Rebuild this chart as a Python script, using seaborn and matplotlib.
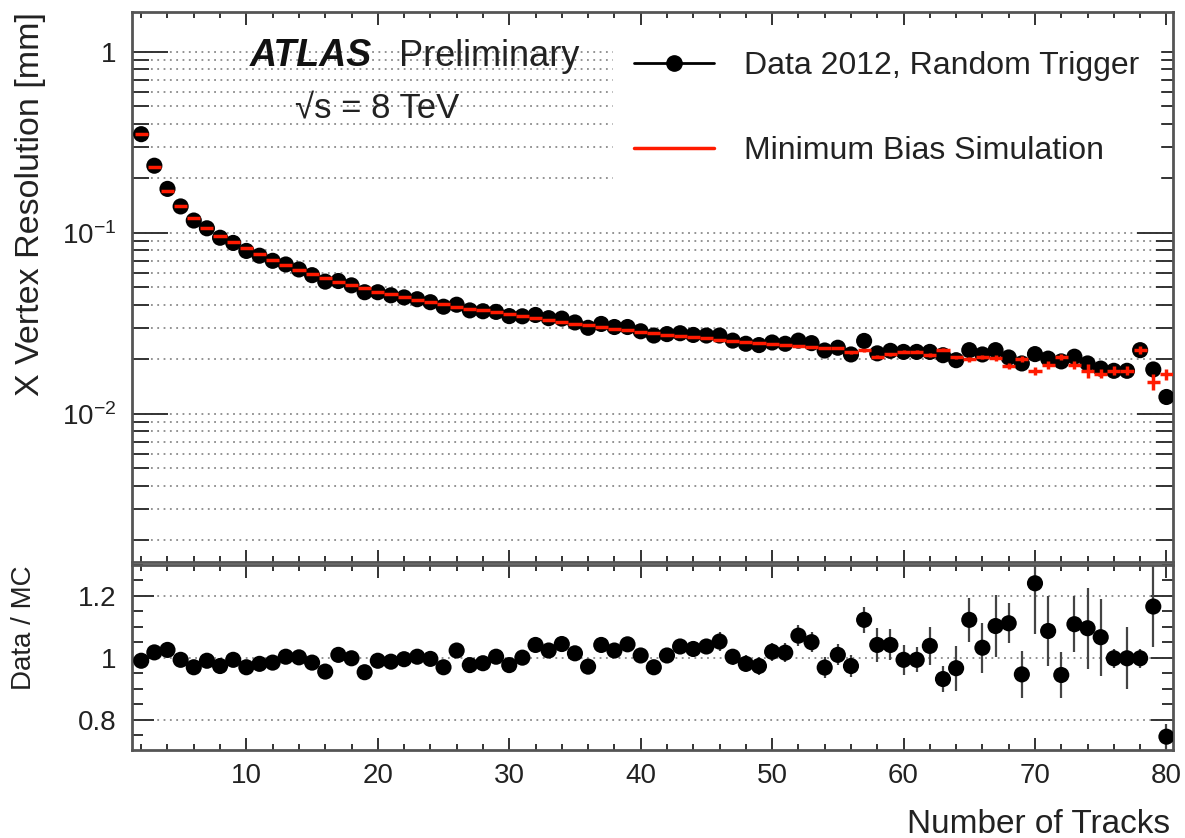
import matplotlib
matplotlib.use('Agg')
import matplotlib.pyplot as plt
import seaborn as sns
import pandas as pd
from matplotlib.lines import Line2D
from matplotlib.ticker import FixedLocator, FixedFormatter, MultipleLocator, NullFormatter, LogLocator

#------------ values ------------#
tracks = list(range(2, 81))

data_res = [
    0.351, 0.235, 0.175, 0.140, 0.117, 0.106, 0.0940, 0.0880, 0.0795, 0.0748,
    0.0701, 0.0669, 0.0628, 0.0584, 0.0538, 0.0542, 0.0513, 0.0470, 0.0470, 0.0452,
    0.0440, 0.0430, 0.0414, 0.0391, 0.0401, 0.0373, 0.0369, 0.0366, 0.0347, 0.0346,
    0.0352, 0.0338, 0.0336, 0.0320, 0.0299, 0.0314, 0.0302, 0.0302, 0.0286, 0.0271,
    0.0276, 0.0279, 0.0273, 0.0271, 0.0271, 0.0254, 0.0244, 0.0240, 0.0248, 0.0244,
    0.0254, 0.0246, 0.0224, 0.0232, 0.0213, 0.0253, 0.0216, 0.0223, 0.0220, 0.0220,
    0.0220, 0.0211, 0.0198, 0.0225, 0.0213, 0.0225, 0.0205, 0.0190, 0.0214, 0.0202,
    0.0195, 0.0207, 0.0190, 0.0178, 0.0173, 0.0173, 0.0225, 0.0176, 0.0124,
]

mc_res = [
    0.354, 0.231, 0.171, 0.141, 0.121, 0.107, 0.0965, 0.0885, 0.0820, 0.0762,
    0.0712, 0.0666, 0.0627, 0.0593, 0.0563, 0.0537, 0.0514, 0.0493, 0.0474, 0.0457,
    0.0442, 0.0428, 0.0415, 0.0403, 0.0392, 0.0382, 0.0375, 0.0365, 0.0355, 0.0346,
    0.0338, 0.0330, 0.0322, 0.0315, 0.0308, 0.0301, 0.0295, 0.0289, 0.0284, 0.0279,
    0.0274, 0.0269, 0.0265, 0.0261, 0.0257, 0.0253, 0.0249, 0.0246, 0.0243, 0.0240,
    0.0237, 0.0234, 0.0231, 0.0230, 0.0219, 0.0225, 0.0207, 0.0214, 0.0221, 0.0221,
    0.0212, 0.0226, 0.0205, 0.0200, 0.0206, 0.0204, 0.0184, 0.0201, 0.0172, 0.0186,
    0.0206, 0.0187, 0.0173, 0.0167, 0.0173, 0.0173, 0.0225, 0.0151, 0.0166,
]

mc_err = [
    0.0020, 0.0012, 0.0008, 0.0006, 0.0005, 0.0004, 0.0003, 0.0003, 0.0003, 0.0002,
    0.0002, 0.0002, 0.0002, 0.0002, 0.0002, 0.0002, 0.0002, 0.0002, 0.0002, 0.0002,
    0.0002, 0.0002, 0.0002, 0.0002, 0.0002, 0.0002, 0.0002, 0.0002, 0.0002, 0.0002,
    0.0002, 0.0002, 0.0002, 0.0002, 0.0002, 0.0002, 0.0002, 0.0002, 0.0002, 0.0002,
    0.0003, 0.0003, 0.0003, 0.0003, 0.0003, 0.0003, 0.0003, 0.0003, 0.0003, 0.0003,
    0.0003, 0.0003, 0.0003, 0.0003, 0.0004, 0.0004, 0.0004, 0.0004, 0.0005, 0.0005,
    0.0005, 0.0004, 0.0005, 0.0006, 0.0006, 0.0007, 0.0007, 0.0008, 0.0009, 0.0009,
    0.0008, 0.0009, 0.0016, 0.0009, 0.0010, 0.0010, 0.0011, 0.0015, 0.0012,
]

ratio = [
    0.991, 1.018, 1.026, 0.994, 0.970, 0.991, 0.974, 0.994, 0.970, 0.981,
    0.985, 1.004, 1.002, 0.985, 0.956, 1.010, 0.999, 0.954, 0.991, 0.988,
    0.996, 1.004, 0.997, 0.970, 1.024, 0.977, 0.983, 1.004, 0.977, 1.001,
    1.042, 1.024, 1.045, 1.015, 0.972, 1.042, 1.024, 1.044, 1.008, 0.970,
    1.008, 1.037, 1.029, 1.037, 1.053, 1.004, 0.981, 0.974, 1.020, 1.017,
    1.072, 1.051, 0.969, 1.010, 0.974, 1.123, 1.042, 1.042, 0.994, 0.994,
    1.039, 0.932, 0.967, 1.123, 1.033, 1.103, 1.112, 0.947, 1.241, 1.087,
    0.945, 1.109, 1.096, 1.067, 0.999, 0.999, 0.999, 1.166, 0.746,
]

ratio_err = [
    0.004, 0.004, 0.005, 0.005, 0.005, 0.006, 0.006, 0.006, 0.007, 0.007,
    0.007, 0.008, 0.008, 0.008, 0.009, 0.009, 0.009, 0.010, 0.010, 0.010,
    0.011, 0.011, 0.012, 0.012, 0.013, 0.013, 0.014, 0.014, 0.015, 0.015,
    0.016, 0.016, 0.017, 0.017, 0.018, 0.019, 0.019, 0.020, 0.021, 0.022,
    0.022, 0.023, 0.024, 0.025, 0.030, 0.026, 0.027, 0.028, 0.029, 0.030,
    0.035, 0.032, 0.035, 0.034, 0.036, 0.043, 0.054, 0.050, 0.048, 0.040,
    0.062, 0.043, 0.073, 0.070, 0.080, 0.100, 0.065, 0.075, 0.165, 0.113,
    0.073, 0.090, 0.130, 0.124, 0.030, 0.100, 0.030, 0.130, 0.040,
]

df = pd.DataFrame({'tracks': tracks, 'data': data_res, 'mc': mc_res,
                   'mc_err': mc_err, 'ratio': ratio, 'ratio_err': ratio_err})

#------------ style ------------#
sns.set_theme(style='ticks')
plt.rcParams['font.family'] = ['Liberation Sans', 'DejaVu Sans']
plt.rcParams['mathtext.fontset'] = 'custom'
plt.rcParams['mathtext.rm'] = 'Liberation Sans'
plt.rcParams['mathtext.it'] = 'Liberation Sans:italic'
plt.rcParams['mathtext.bf'] = 'Liberation Sans:bold'

W, H = 1185, 838
fig = plt.figure(figsize=(11.85, 8.38), dpi=100)
left, right = 132 / W, 1173 / W
ax1 = fig.add_axes([left, 1 - 562 / H, right - left, (562 - 12.5) / H])
ax2 = fig.add_axes([left, 1 - 750 / H, right - left, (750 - 565) / H], sharex=ax1)

grid_kw = dict(color='#8a8a8a', linestyle=(0, (1, 2.5)), linewidth=1.3)
spine_col = '#555555'
msize = 135

#------------ top panel ------------#
ax1.set_yscale('log')
ax1.set_ylim(1.52e-3, 1.65)
ax1.set_xlim(1.3, 80.5)
ax1.yaxis.grid(True, which='both', **grid_kw)
ax1.xaxis.grid(False)

sns.scatterplot(data=df, x='tracks', y='data', ax=ax1, color='black', s=msize,
                edgecolor='none', zorder=3, legend=False)
ax1.errorbar(df['tracks'], df['mc'], xerr=0.5, yerr=df['mc_err'], fmt='none',
             ecolor='#ff1a00', elinewidth=2.5, capsize=0, zorder=4)

ax1.yaxis.set_major_locator(FixedLocator([1e-2, 1e-1, 1]))
ax1.yaxis.set_major_formatter(FixedFormatter(['$10^{-2}$', '$10^{-1}$', '1']))
ax1.yaxis.set_minor_locator(LogLocator(base=10, subs=[2, 3, 4, 5, 6, 7, 8, 9]))
ax1.yaxis.set_minor_formatter(NullFormatter())
ax1.set_xlabel('')
ax1.set_ylabel('')

#------------ ratio panel ------------#
ax2.set_ylim(0.703, 1.30)
ax2.yaxis.grid(True, which='major', **grid_kw)
ax2.xaxis.grid(False)
ax2.errorbar(df['tracks'], df['ratio'], yerr=df['ratio_err'], fmt='none',
             ecolor='#444444', elinewidth=1.6, capsize=0, zorder=2)
sns.scatterplot(data=df, x='tracks', y='ratio', ax=ax2, color='black', s=msize,
                edgecolor='none', zorder=3, legend=False)
ax2.yaxis.set_major_locator(FixedLocator([0.8, 1.0, 1.2]))
ax2.yaxis.set_major_formatter(FixedFormatter(['0.8', '1', '1.2']))
ax2.yaxis.set_minor_locator(MultipleLocator(0.05))
ax2.xaxis.set_major_locator(MultipleLocator(10))
ax2.xaxis.set_minor_locator(MultipleLocator(2))
ax2.set_xlabel('')
ax2.set_ylabel('')

for ax in (ax1, ax2):
    for sp in ax.spines.values():
        sp.set_visible(True)
        sp.set_color(spine_col)
        sp.set_linewidth(2)
    ax.tick_params(which='both', direction='in', top=True, right=True,
                   color='#333333', width=1.4, labelsize=20, labelcolor='#222222')
    ax.tick_params(axis='x', which='major', length=9, pad=9)
    ax.tick_params(axis='x', which='minor', length=4.5)

ax1.tick_params(axis='y', which='major', length=26, pad=11)
ax1.tick_params(axis='y', which='minor', length=12)
ax1.tick_params(axis='x', which='both', labelbottom=False)
ax2.tick_params(axis='y', which='major', length=16, pad=11)
ax2.tick_params(axis='y', which='minor', length=8)

#------------ text ------------#
fig.text(250 / W, 1 - 66 / H, 'ATLAS', fontsize=27, fontweight='bold',
         fontstyle='italic', va='baseline', ha='left', color='#111111')
fig.text(399 / W, 1 - 66 / H, 'Preliminary', fontsize=26, va='baseline',
         ha='left', color='#222222')
fig.text(295 / W, 1 - 117 / H, '\u221as = 8 TeV', fontsize=25, va='baseline',
         ha='left', color='#222222')

handles = [Line2D([0], [0], color='black', lw=2, marker='o', ms=11),
           Line2D([0], [0], color='#ff1a00', lw=2.5)]
ax1.legend(handles, ['Data 2012, Random Trigger', 'Minimum Bias Simulation'],
           loc='upper left', bbox_to_anchor=(613 / W, 1 - 30 / H),
           bbox_transform=fig.transFigure, borderaxespad=0, frameon=True,
           facecolor='white', edgecolor='white', framealpha=1, fancybox=False,
           fontsize=23, handlelength=2.5, handletextpad=0.95, labelspacing=1.72,
           borderpad=0.65, labelcolor='#222222')

fig.text(31 / W, 1 - 12.5 / H, 'X Vertex Resolution [mm]', rotation=90,
         fontsize=24.5, ha='center', va='top', color='#222222')
fig.text(24 / W, 1 - 565 / H, 'Data / MC', rotation=90,
         fontsize=20, ha='center', va='top', color='#222222')
fig.text(1170 / W, 1 - 824 / H, 'Number of Tracks', fontsize=24,
         ha='right', va='center', color='#222222')

fig.savefig('out.png', dpi=100, facecolor='white')
